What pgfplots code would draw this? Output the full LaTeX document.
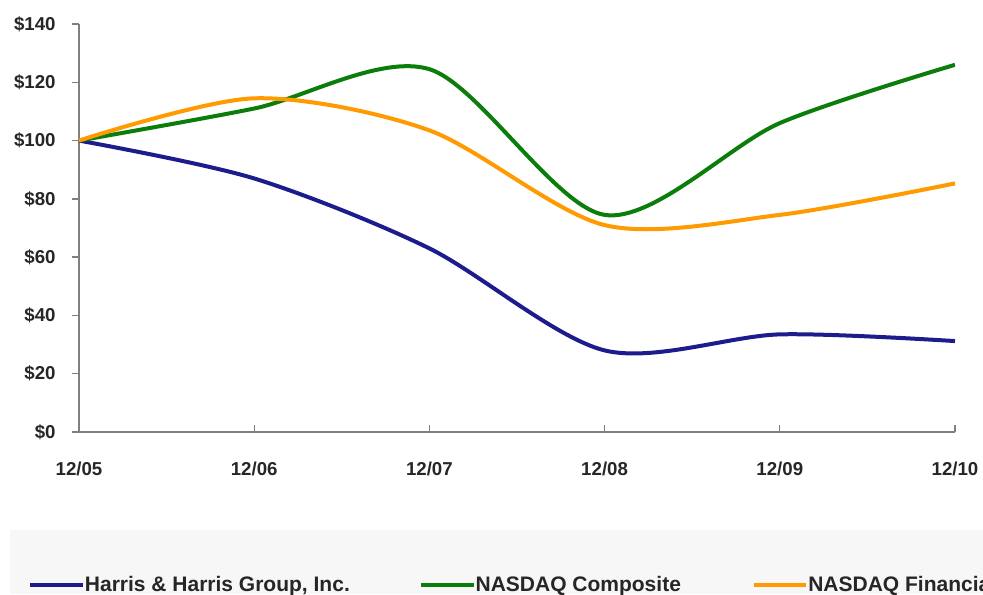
\documentclass[border=0pt]{standalone}
\usepackage{pgfplots}
\pgfplotsset{compat=1.18}
\usepackage{fontspec}
\setmainfont{Liberation Sans}
\definecolor{hblue}{HTML}{1C1C8C}
\definecolor{ngreen}{HTML}{0B7D0B}
\definecolor{forange}{HTML}{FF9A00}
\begin{document}
\begin{tikzpicture}[x=0.75pt,y=0.75pt]
\useasboundingbox (0,0) rectangle (983,594);
\clip (0,0) rectangle (983,594);
\fill[black!3] (10,0) rectangle (983,64);
\begin{axis}[
  at={(59.25pt,121.5pt)}, anchor=south west,
  scale only axis, width=657pt, height=306pt,
  xmin=0, xmax=5, ymin=0, ymax=140,
  axis x line*=bottom, axis y line*=left,
  axis line style={black!50, line width=1pt},
  every tick/.style={black!50, line width=1pt},
  xtick={0,1,2,3,4,5},
  xticklabels={12/05,12/06,12/07,12/08,12/09,12/10},
  ytick={0,20,40,60,80,100,120,140},
  yticklabels={\$0,\$20,\$40,\$60,\$80,\$100,\$120,\$140},
  xtick align=inside, ytick align=outside,
  major tick length=5.5pt,
  tick label style={font=\fontsize{14}{16}\selectfont\bfseries, text=black!85},
  xticklabel style={yshift=-18.75pt},
  yticklabel style={xshift=-8.5pt},
  legend columns=3,
  legend style={at={(-0.0582,-0.375)}, anchor=west, draw=none, fill=none,
    inner sep=0pt,
    nodes={inner sep=0pt, font=\fontsize{15.75}{18}\selectfont\bfseries, text=black!85},
    /tikz/column sep=0pt},
  legend image code/.code={\draw[#1, line width=3pt] (0pt,0pt) -- (39.5pt,0pt);},
  every axis plot/.append style={line width=3pt, smooth, tension=0.5},
]
\addplot[hblue] coordinates {(0,100) (1,87) (2,63) (3,28) (4,33.5) (5,31.2)};
\addlegendentry{\makebox[250.5pt][l]{Harris \& Harris Group, Inc.}}
\addplot[ngreen] coordinates {(0,100) (1,111) (2,124.5) (3,74.5) (4,106) (5,126)};
\addlegendentry{\makebox[207pt][l]{NASDAQ Composite}}
\addplot[forange] coordinates {(0,100) (1,114.5) (2,103.5) (3,71) (4,74.5) (5,85.3)};
\addlegendentry{NASDAQ Financial}
\end{axis}
\end{tikzpicture}
\end{document}
